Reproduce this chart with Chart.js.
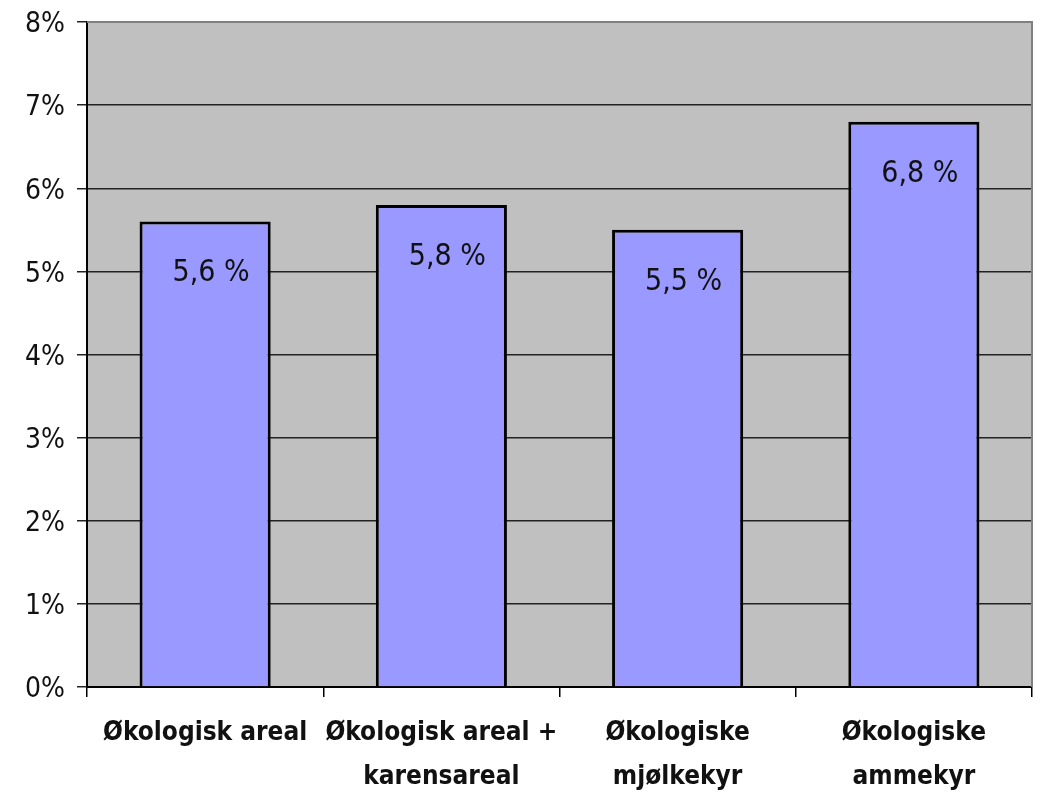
<!DOCTYPE html>
<html>
<head>
<meta charset="utf-8">
<script src="https://cdn.jsdelivr.net/npm/chart.js@4/dist/chart.umd.min.js"></script>
<style>
html,body{margin:0;padding:0;background:#fff;}
#wrap{width:1041px;height:792px;position:relative;}
</style>
</head>
<body>
<div id="wrap"><canvas id="chart" width="1041" height="792"></canvas></div>
<script>
const categories=[['Økologisk areal'],['Økologisk areal +','karensareal'],['Økologiske','mjølkekyr'],['Økologiske','ammekyr']];
const shares=[5.6,5.8,5.5,6.8];
const valueLabels=['5,6 %','5,8 %','5,5 %','6,8 %'];
const tickLabels=['0%','1%','2%','3%','4%','5%','6%','7%','8%'];

const FONT="'Liberation Sans Narrow','DejaVu Sans Condensed',sans-serif";

const plotFrame={
  id:'plotFrame',
  beforeDraw(chart){
    const {ctx,chartArea:a}=chart;
    ctx.save();
    ctx.fillStyle='#c0c0c0';
    ctx.fillRect(a.left,a.top,a.right-a.left,a.bottom-a.top);
    ctx.restore();
  },
  afterDatasetsDraw(chart){
    const {ctx,chartArea:a}=chart;
    ctx.save();
    ctx.strokeStyle='#808080';ctx.lineWidth=2;
    ctx.beginPath();
    ctx.moveTo(a.left,a.top);ctx.lineTo(a.right,a.top);ctx.lineTo(a.right,a.bottom);
    ctx.stroke();
    // value labels inside the bars
    ctx.fillStyle='#111';
    ctx.font='30px '+FONT;
    ctx.textAlign='center';ctx.textBaseline='middle';
    chart.getDatasetMeta(0).data.forEach((bar,i)=>{
      ctx.fillText(valueLabels[i],bar.x+6,bar.y+52);
    });
    ctx.restore();
  }
};

new Chart(document.getElementById('chart'),{
  type:'bar',
  data:{labels:categories,datasets:[{data:shares,backgroundColor:'#9999ff',borderColor:'#000',borderWidth:3,borderSkipped:'bottom',barPercentage:0.555,categoryPercentage:1}]},
  options:{
    responsive:false,animation:false,
    layout:{padding:{top:22,right:9,left:0,bottom:0}},
    plugins:{legend:{display:false},tooltip:{enabled:false}},
    scales:{
      x:{
        afterFit:s=>{s.height=105;},
        grid:{display:true,drawOnChartArea:false,drawTicks:true,tickLength:10,color:'#000',lineWidth:1.5,offset:true},
        border:{color:'#000',width:2},
        ticks:{color:'#111',font:{family:FONT,size:26,weight:'bold',lineHeight:1.7},padding:14,maxRotation:0,autoSkip:false}
      },
      y:{
        min:0,max:8,
        afterFit:s=>{s.width=87;},
        grid:{color:'#222',lineWidth:1.5,tickLength:10},
        border:{color:'#000',width:2},
        ticks:{stepSize:1,color:'#111',padding:12,labelOffset:3,font:{family:FONT,size:28,lineHeight:0.6},callback:(v,i)=>tickLabels[i]}
      }
    }
  },
  plugins:[plotFrame]
});
</script>
</body>
</html>
